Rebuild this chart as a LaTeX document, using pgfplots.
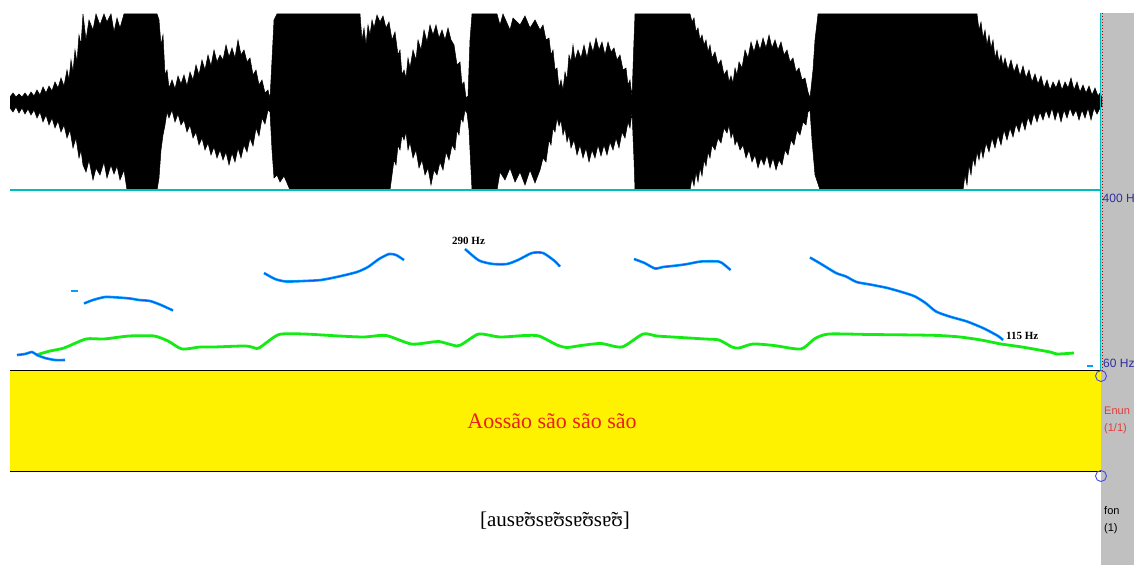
\documentclass[border=0pt]{standalone}
\usepackage{pgfplots}
\pgfplotsset{compat=1.18}
\usepgfplotslibrary{fillbetween}
\usepackage{fontspec}
\setmainfont{Liberation Serif}
\newfontfamily\uisans{Liberation Sans}
\definecolor{wavecyan}{RGB}{0,190,190}
\definecolor{stripgray}{RGB}{192,192,192}
\definecolor{pitchblue}{RGB}{0,160,255}
\definecolor{pitchcore}{RGB}{0,90,240}
\definecolor{pitchgreen}{RGB}{20,235,20}
\definecolor{navy}{RGB}{45,45,160}
\definecolor{tierred}{RGB}{235,30,30}
\definecolor{labred}{RGB}{225,60,60}
\definecolor{circblue}{RGB}{70,70,230}
\definecolor{dotred}{RGB}{170,0,0}
\begin{document}
\begin{tikzpicture}
\begin{axis}[
  width=1134pt, height=565pt, scale only axis,
  xmin=0, xmax=1134, ymin=0, ymax=565, y dir=reverse,
  hide axis, clip=false,
  fill between/on layer=main,
]
% background and frames
\fill[white] (axis cs:0,0) rectangle (axis cs:1134,565);
\coordinate (bl) at (axis cs:0,565);
\coordinate (tr) at (axis cs:1134,0);
\fill[stripgray] (axis cs:1101,13) rectangle (axis cs:1134,565);
\fill[yellow] (axis cs:10,371) rectangle (axis cs:1101,471);
\draw[black, line width=1pt] (axis cs:10,371) -- (axis cs:1101,371);
\draw[black, line width=1pt] (axis cs:10,471) -- (axis cs:1101,471);

% waveform: upper and lower envelopes
\addplot[name path=U, black, line width=0.5pt] coordinates {
(10,97)(13,93)(16,97)(19,94)(22,97)(25,93)(28,97)(31,92)(34,96)(37,90)(40,95)(43,87)(46,93)(49,86)(52,91)(55,82)(58,88)(61,78)(64,86)(67,70)(69,80)(71,60)(73,72)(75,50)(77,62)(79,35)(81,45)(83,14)
(86,40)(89,20)(93,30)(96,14)(100,25)(104,14)(107,22)(111,14)(114,32)(117,18)(120,28)(124,14)(157,14)
(159,20)(161,45)(163,35)(165,75)(167,70)(169,88)(172,80)(175,89)(178,76)(181,84)(184,75)(187,86)(190,72)(193,80)(196,65)(199,75)(202,60)(205,70)(208,55)(211,66)(214,50)(217,62)(220,55)(223,60)(226,45)(229,57)(232,48)(235,58)(238,40)(241,55)(244,50)(247,62)(250,58)(253,75)(256,70)(259,85)(262,80)(265,93)(268,90)(270,99)(272,60)(274,20)(277,14)
(360,14)(362,40)(364,28)(366,45)(368,25)(370,35)(372,20)(374,28)(377,15)(380,22)(383,16)(386,28)(389,22)(392,40)(395,32)(398,55)(400,50)(402,75)(404,70)(406,78)(408,58)(410,68)(413,50)(416,60)(418,40)(421,50)(424,30)(427,42)(430,25)(433,35)(436,25)(439,38)(442,30)(445,40)(448,28)(451,40)(454,45)(457,65)(460,62)(462,85)(464,82)(466,98)(468,96)(470,40)(472,14)
(497,14)(500,25)(503,14)(510,30)(513,18)(520,25)(525,16)(530,28)(535,20)
(540,30)(543,25)(546,40)(549,38)(551,55)(553,50)(555,70)(557,68)(559,88)(561,80)(563,90)(565,72)(567,80)(569,55)(571,62)(573,45)(575,60)(578,50)(581,58)(584,45)(587,58)(590,42)(593,52)(596,38)(599,50)(602,42)(605,55)(608,42)(611,52)(614,48)(617,60)(620,55)(623,70)(626,68)(628,85)(630,80)(632,97)(634,40)(635,14)
(690,14)(692,22)(694,18)(696,32)(698,28)(700,40)(702,35)(704,45)(706,40)(708,52)(710,45)(712,58)(715,52)(718,65)(721,60)(724,75)(727,70)(729,82)(731,76)(733,83)(735,68)(737,75)(739,62)(742,68)(745,50)(748,58)(751,42)(754,52)(757,40)(760,50)(763,38)(766,48)(769,35)(772,48)(775,40)(778,50)(781,42)(784,55)(787,50)(790,62)(793,58)(796,72)(799,68)(802,80)(805,78)(808,92)(810,98)(813,70)(815,40)(818,14)
(977,14)(979,30)(981,22)(983,38)(985,30)(987,45)(989,35)(991,48)(993,40)(995,58)(997,50)(999,62)(1001,55)(1003,66)(1005,58)(1008,70)(1011,60)(1014,72)(1017,64)(1020,76)(1023,66)(1026,78)(1029,70)(1032,82)(1035,74)(1038,84)(1041,76)(1044,88)(1047,80)(1050,90)(1053,82)(1056,88)(1059,80)(1062,90)(1065,82)(1068,88)(1071,78)(1074,90)(1077,82)(1080,92)(1083,85)(1086,93)(1089,86)(1092,95)(1095,88)(1098,96)(1100,93)(1102,98)
};
\addplot[name path=L, black, line width=0.5pt] coordinates {
(10,108)(13,112)(16,107)(19,113)(22,108)(25,114)(28,109)(31,115)(34,110)(37,118)(40,112)(43,122)(46,115)(49,125)(52,118)(55,128)(58,121)(61,132)(64,125)(67,138)(70,130)(73,148)(76,138)(79,158)(81,150)(83,165)
(86,172)(89,160)(93,180)(96,168)(100,175)(104,162)(107,178)(111,165)(114,174)(117,166)(120,180)(124,170)(127,190)(157,190)
(159,178)(161,150)(163,135)(165,125)(167,112)(169,118)(172,110)(175,122)(178,114)(181,125)(184,120)(187,132)(190,125)(193,138)(196,132)(199,145)(202,138)(205,150)(208,143)(211,155)(214,147)(217,158)(220,150)(223,160)(226,152)(229,165)(232,153)(235,162)(238,148)(241,158)(244,145)(247,152)(250,138)(253,146)(256,128)(259,136)(262,118)(265,124)(268,110)(270,112)(272,150)(274,178)(277,175)(280,182)(284,176)(290,190)
(390,190)(392,175)(394,160)(396,165)(398,145)(400,150)(402,135)(404,140)(406,132)(408,150)(410,142)(413,158)(416,150)(419,168)(422,160)(425,175)(428,168)(431,185)(434,170)(437,175)(440,162)(443,170)(446,152)(449,160)(452,145)(455,150)(457,130)(459,135)(461,118)(463,122)(465,110)(467,113)(469,130)(471,170)(472,190)
(497,190)(500,172)(505,180)(510,168)(515,182)(520,172)(525,185)(530,170)(535,183)
(540,170)(543,158)(546,162)(549,140)(551,145)(553,128)(555,132)(557,118)(559,126)(561,120)(563,135)(565,128)(567,142)(569,135)(571,148)(574,140)(577,155)(580,145)(583,158)(586,148)(589,162)(592,150)(595,158)(598,145)(601,156)(604,145)(607,155)(610,142)(613,150)(616,138)(619,148)(622,132)(625,138)(628,122)(630,128)(632,112)(634,160)(635,190)
(690,190)(692,178)(694,186)(696,172)(698,182)(700,168)(702,176)(704,160)(706,166)(708,152)(710,158)(712,145)(715,150)(718,138)(721,143)(724,128)(727,133)(729,125)(731,138)(733,132)(735,145)(737,140)(740,150)(743,145)(746,158)(749,150)(752,162)(755,155)(758,168)(761,158)(764,165)(767,155)(770,168)(773,158)(776,170)(779,160)(782,165)(785,150)(788,155)(791,140)(794,145)(797,130)(800,135)(803,122)(806,125)(808,112)(810,110)(812,140)(815,175)(820,190)
(963,190)(965,175)(967,185)(969,165)(971,175)(973,158)(975,166)(977,152)(979,160)(981,148)(983,158)(986,143)(989,152)(992,138)(995,148)(998,135)(1001,145)(1004,130)(1007,140)(1010,128)(1013,137)(1016,124)(1019,132)(1022,120)(1025,130)(1028,117)(1031,125)(1034,113)(1037,122)(1040,112)(1043,120)(1046,110)(1049,118)(1052,108)(1055,120)(1058,110)(1061,122)(1064,110)(1067,118)(1070,108)(1073,116)(1076,110)(1079,120)(1082,110)(1085,118)(1088,108)(1091,120)(1094,108)(1097,114)(1100,108)(1102,106)
};
\addplot[black, fill=black] fill between[of=U and L];
\draw[wavecyan, line width=2pt] (axis cs:10,190.5) -- (axis cs:1101,190.5);

% right border lines
\draw[wavecyan, line width=0.8pt] (axis cs:1100.5,13) -- (axis cs:1100.5,371);
\draw[dotred, line width=1pt, dotted] (axis cs:1102,13) -- (axis cs:1102,371);

% green contour
\addplot[pitchgreen, line width=2.8pt, smooth, tension=0.4] coordinates {
(36,355) (50,351) (64,348) (86,339) (104,339) (129,336) (154,336) (168,341) (182,349) (200,347) (214,347) (246,346) (257,348.5) (262,346) (279,334.5) (304,334) (339,336) (364,337) (386,335.5) (411,344) (429,342.5) (439,341.5) (457,346) (464,343) (479,334) (500,337) (525,335.5) (539,336) (557,345) (567,347.5) (581,345.5) (601,343.5) (622,347) (643,334) (657,336) (681,337.5) (705,339) (719,340) (732,347) (739,348) (753,344) (774,345.5) (801,349) (815,338.5) (829,334) (870,334.5) (915,335) (939,335.5) (960,337) (981,340) (1001,344) (1022,347) (1050,352) (1057,354) (1074,353)
};

% blue contours
\pgfplotsset{bluecontour/.style={pitchblue, line width=2.6pt, smooth, tension=0.4}}
\pgfplotsset{bluecore/.style={pitchcore, line width=1pt, smooth, tension=0.4}}
\addplot[bluecontour] coordinates {(17,355) (25,354) (32,352) (37,355) (45,358) (55,360) (65,360)};
\addplot[bluecontour] coordinates {(71,291) (78,291)};
\addplot[bluecontour] coordinates {(84,303.5) (93,300) (105,297) (118,297.5) (130,298.5) (139,300) (150,301) (161,305) (173,310.5)};
\addplot[bluecontour] coordinates {(264,273) (275,279) (286,281.5) (304,281) (321,280) (339,276.5) (357,272) (368,267) (379,259) (389,254) (396,255) (404,260)};
\addplot[bluecontour] coordinates {(465,249) (479,260.5) (493,264) (507,264) (518,260) (532,253) (543,253) (554,260.5) (560,266.5)};
\addplot[bluecontour] coordinates {(634,259) (644.5,263) (655,268.5) (663,267) (677,265.5) (687.5,264) (701,261.5) (718.5,261.5) (724,264.5) (730.5,270)};
\addplot[bluecontour] coordinates {(810,257.5) (822,264.5) (836,273) (846,276.5) (856.5,282) (870,284.5) (887.5,288) (905,293) (915,296.5) (925.5,303) (936,311.5) (949.5,316.5) (967,321.5) (984,328.5) (998,336) (1003,340)};
\addplot[bluecontour] coordinates {(1087,366) (1093,366)};
\addplot[bluecore] coordinates {(17,355) (25,354) (32,352) (37,355) (45,358) (55,360) (65,360)};
\addplot[bluecore] coordinates {(84,303.5) (93,300) (105,297) (118,297.5) (130,298.5) (139,300) (150,301) (161,305) (173,310.5)};
\addplot[bluecore] coordinates {(264,273) (275,279) (286,281.5) (304,281) (321,280) (339,276.5) (357,272) (368,267) (379,259) (389,254) (396,255) (404,260)};
\addplot[bluecore] coordinates {(465,249) (479,260.5) (493,264) (507,264) (518,260) (532,253) (543,253) (554,260.5) (560,266.5)};
\addplot[bluecore] coordinates {(634,259) (644.5,263) (655,268.5) (663,267) (677,265.5) (687.5,264) (701,261.5) (718.5,261.5) (724,264.5) (730.5,270)};
\addplot[bluecore] coordinates {(810,257.5) (822,264.5) (836,273) (846,276.5) (856.5,282) (870,284.5) (887.5,288) (905,293) (915,296.5) (925.5,303) (936,311.5) (949.5,316.5) (967,321.5) (984,328.5) (998,336) (1003,340)};

% pitch labels
\node[anchor=west, inner sep=0pt, font=\fontsize{11}{13}\selectfont\bfseries] at (axis cs:452,241) {290 Hz};
\node[anchor=west, inner sep=0pt, font=\fontsize{11}{13}\selectfont\bfseries] at (axis cs:1006,336) {115 Hz};

% right side labels
\node[anchor=west, inner sep=0pt, text=navy, font=\uisans\fontsize{12}{14}\selectfont] at (axis cs:1102.5,198) {400 H};
\node[anchor=west, inner sep=0pt, text=navy, font=\uisans\fontsize{12}{14}\selectfont] at (axis cs:1103,363) {60 Hz};
\node[anchor=west, inner sep=0pt, text=labred, font=\uisans\fontsize{11}{13}\selectfont] at (axis cs:1104,411) {Enun};
\node[anchor=west, inner sep=0pt, text=labred, font=\uisans\fontsize{11}{13}\selectfont] at (axis cs:1104,429) {(1/1)};
\node[anchor=west, inner sep=0pt, text=black, font=\uisans\fontsize{11}{13}\selectfont] at (axis cs:1104,511) {fon};
\node[anchor=west, inner sep=0pt, text=black, font=\uisans\fontsize{11}{13}\selectfont] at (axis cs:1104,529) {(1)};
\draw[circblue, line width=0.9pt] (axis cs:1101,376) circle[radius=5.5pt];
\draw[circblue, line width=0.9pt] (axis cs:1101,476) circle[radius=5.5pt];

% tier texts
\node[text=tierred, font=\fontsize{22}{26}\selectfont] at (axis cs:552,421) {Aossão são são são};
\node[text=black, font=\fontsize{21}{25}\selectfont] at (axis cs:555,521) {[ausɐ̃ʊsɐ̃ʊsɐ̃ʊsɐ̃ʊ]};
\end{axis}
\pgfresetboundingbox
\path[use as bounding box] (bl) rectangle (tr);
\end{tikzpicture}
\end{document}
